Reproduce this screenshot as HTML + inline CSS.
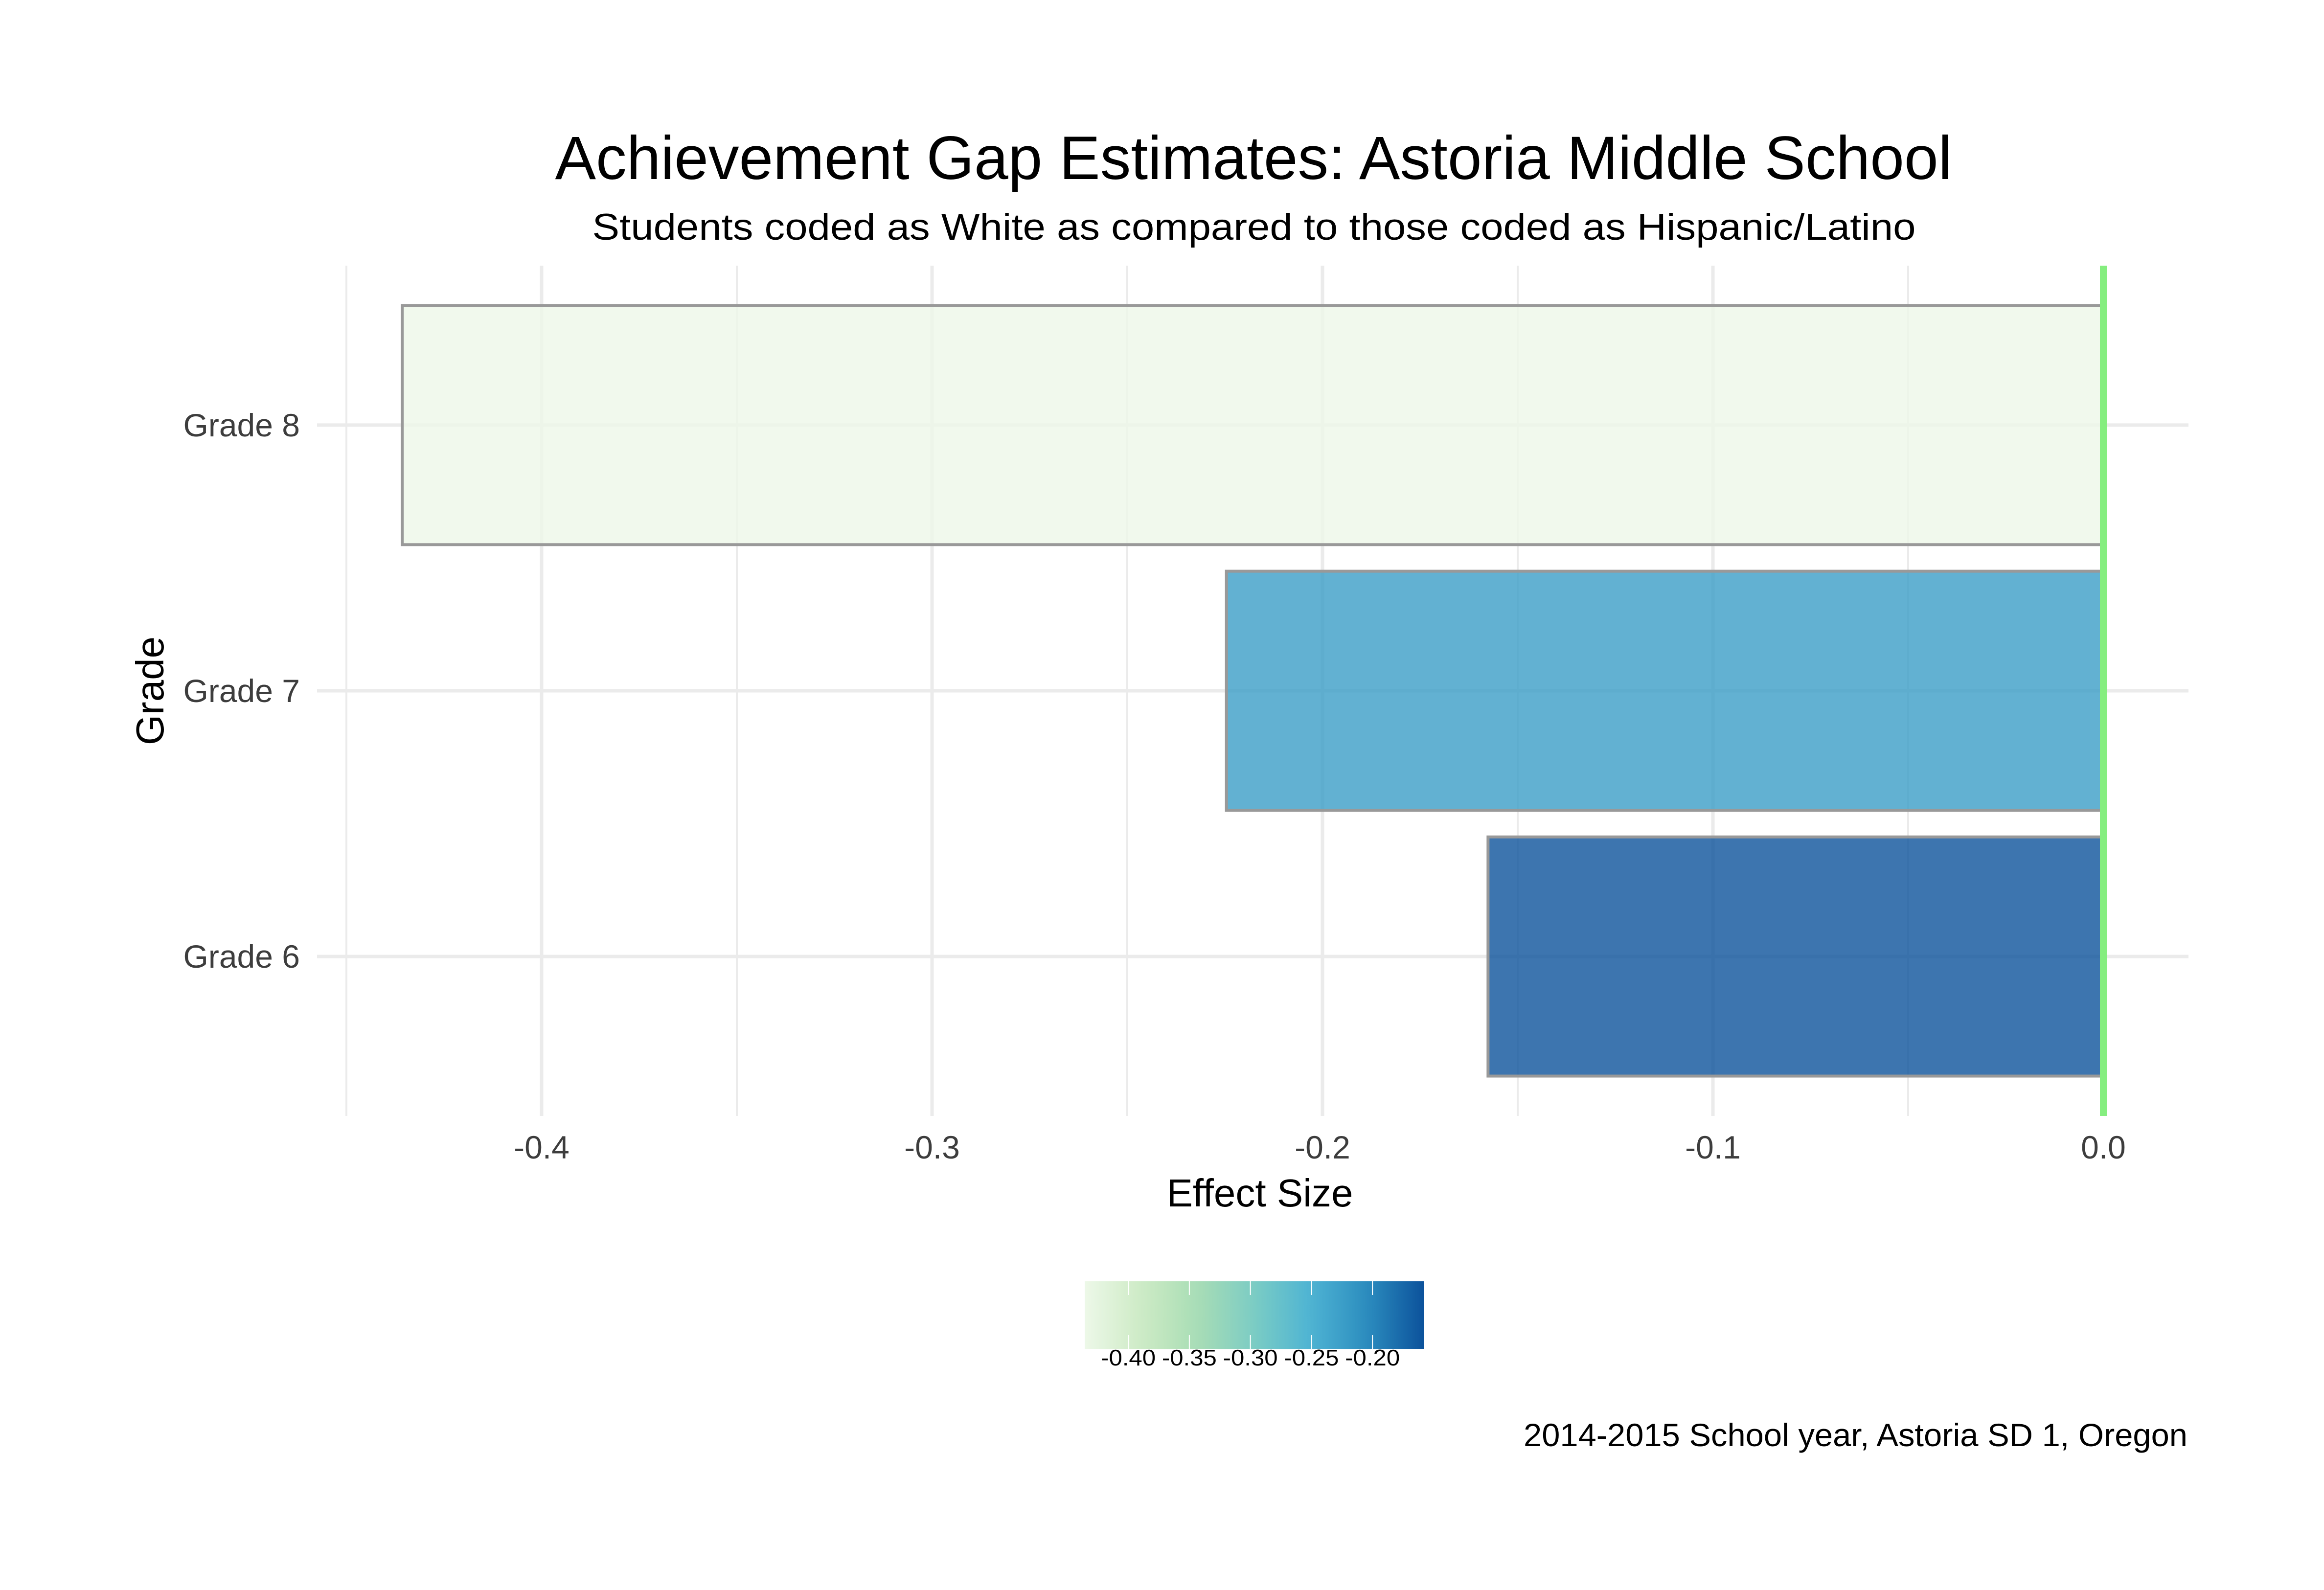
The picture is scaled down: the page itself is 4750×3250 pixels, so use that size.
<!DOCTYPE html>
<html><head><meta charset="utf-8"><style>
html,body{margin:0;padding:0;background:#fff}
svg{display:block;font-family:"Liberation Sans",Arial,sans-serif}
</style></head><body>
<svg id="chart" width="4750" height="3250" viewBox="0 0 4750 3250" xmlns="http://www.w3.org/2000/svg">
<rect width="4750" height="3250" fill="#fff"/>
<text x="2562" y="366" font-size="125" text-anchor="middle" fill="#000" textLength="2855" lengthAdjust="spacingAndGlyphs">Achievement Gap Estimates: Astoria Middle School</text>
<text x="2563" y="490" font-size="76" text-anchor="middle" fill="#000" textLength="2705" lengthAdjust="spacingAndGlyphs">Students coded as White as compared to those coded as Hispanic/Latino</text>
<g id="grid"></g>
<g id="bars"></g>
<g id="axes"></g>
<text x="2575" y="2466" font-size="80" text-anchor="middle" fill="#000">Effect Size</text>
<text transform="translate(334,1412) rotate(-90)" font-size="80" text-anchor="middle" fill="#000">Grade</text>
<defs><linearGradient id="lg" x1="0" x2="1" y1="0" y2="0"></linearGradient></defs>
<g id="legend"></g>
<text x="4471" y="2956" font-size="66" text-anchor="end" fill="#000" textLength="1357" lengthAdjust="spacingAndGlyphs">2014-2015 School year, Astoria SD 1, Oregon</text>
</svg>
<script>
const categories = ["Grade 6", "Grade 7", "Grade 8"];
const values = [-0.1576, -0.2246, -0.4357];
const xTicks = [-0.4, -0.3, -0.2, -0.1, 0.0];
const xTickLabels = ["-0.4", "-0.3", "-0.2", "-0.1", "0.0"];
const xMinor = [-0.45, -0.35, -0.25, -0.15, -0.05];
const legendTicks = [-0.40, -0.35, -0.30, -0.25, -0.20];
const legendLabels = ["-0.40", "-0.35", "-0.30", "-0.25", "-0.20"];

const NS = "http://www.w3.org/2000/svg";
const panelL = 648, panelR = 4473, panelT = 543, panelB = 2281;
const x0 = 4299, pxPer = 7980;
function xs(v){ return x0 + v * pxPer; }
const band = (panelB - panelT) / 3.2;
function ys(i){ return panelB - (i + 0.6) * band; }
function mk(tag, attrs, parent){ const e = document.createElementNS(NS, tag); for (const k in attrs) e.setAttribute(k, attrs[k]); parent.appendChild(e); return e; }

const pal = ["#edf8e8","#cdebc5","#a8ddb5","#7bccc4","#4eb3d3","#2b8cbe","#0c529b"];
function hex(h){ return [1,3,5].map(i => parseInt(h.substr(i,2),16)); }
const vmin = Math.min(...values), vmax = Math.max(...values);
function colorFor(v){
  let t = (v - vmin) / ((vmax - vmin) || 1); t = Math.max(0, Math.min(1, t));
  const p = t * (pal.length - 1), i = Math.min(Math.floor(p), pal.length - 2), f = p - i;
  const a = hex(pal[i]), b = hex(pal[i+1]);
  return "rgb(" + a.map((c,k) => Math.round(c + (b[k]-c)*f)).join(",") + ")";
}

const grid = document.getElementById("grid");
xMinor.forEach(v => {
  const l = mk("line", {x1: xs(v), x2: xs(v), y1: panelT, y2: panelB, stroke: "#ebebeb", "stroke-width": 4}, grid);
  
  
});
xTicks.forEach(v => {
  const l = mk("line", {x1: xs(v), x2: xs(v), y1: panelT, y2: panelB, stroke: "#ebebeb", "stroke-width": 7}, grid);
  
  
});
categories.forEach((c, i) => {
  const l = mk("line", {x1: panelL, x2: panelR, y1: ys(i), y2: ys(i), stroke: "#ebebeb", "stroke-width": 7}, grid);
  
  
});

const bars = document.getElementById("bars");
values.forEach((v, i) => {
  const xa = xs(Math.min(v, 0)), xb = xs(Math.max(v, 0));
  const h = band * 0.9;
  const r = mk("rect", {x: xa, y: ys(i) - h/2, width: xb - xa, height: h, fill: colorFor(v), "fill-opacity": 0.8, stroke: "#999999", "stroke-width": 6}, bars);
  
  
});
const zl = mk("line", {x1: x0, x2: x0, y1: panelT, y2: panelB, stroke: "#85ee7f", "stroke-width": 14}, bars);



const axes = document.getElementById("axes");
xTicks.forEach((v, i) => {
  const t = mk("text", {x: xs(v), y: 2368, "font-size": 66, "text-anchor": "middle", fill: "#3d3d3d"}, axes);
  t.textContent = xTickLabels[i];
  
  
});
categories.forEach((c, i) => {
  const t = mk("text", {x: 613, y: ys(i) + 23, "font-size": 66, "text-anchor": "end", fill: "#3d3d3d"}, axes);
  t.textContent = c;
  
  
});

const lg = document.getElementById("lg");
for (let k = 0; k <= 20; k++) {
  const v = vmin + (vmax - vmin) * k / 20;
  mk("stop", {offset: (k/20*100) + "%", "stop-color": colorFor(v)}, lg);
}
const legend = document.getElementById("legend");
const lgL = 2217, lgR = 2911, lgT = 2619, lgB = 2757;
const lbar = mk("rect", {x: lgL, y: lgT, width: lgR - lgL, height: lgB - lgT, fill: "url(#lg)"}, legend);


function lx(v){ return lgL + (v - vmin) / (vmax - vmin) * (lgR - lgL); }
legendTicks.forEach((v, i) => {
  const x = lx(v);
  const t1 = mk("line", {x1: x, x2: x, y1: lgT, y2: lgT + 28, stroke: "#fff", "stroke-width": 2}, legend);
  
  
  const t2 = mk("line", {x1: x, x2: x, y1: lgB - 28, y2: lgB, stroke: "#fff", "stroke-width": 2}, legend);
  
  
  const t = mk("text", {x: x, y: 2791, "font-size": 46, "text-anchor": "middle", fill: "#000", textLength: 112, lengthAdjust: "spacingAndGlyphs"}, legend);
  t.textContent = legendLabels[i];
  
  
});
</script>
</body></html>
